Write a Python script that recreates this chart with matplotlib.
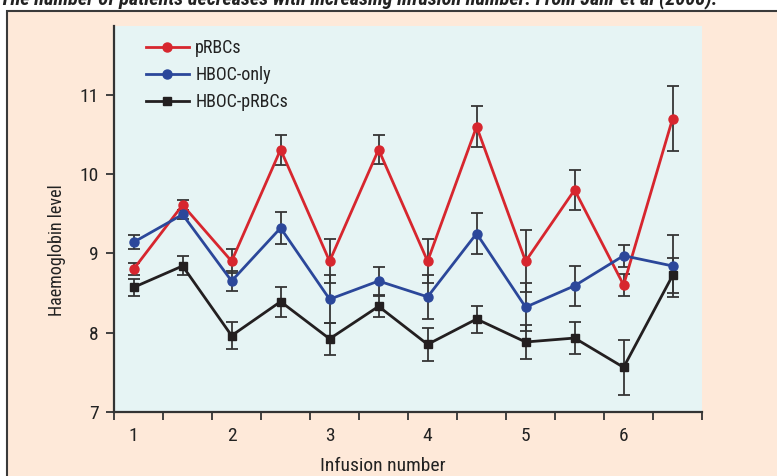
import matplotlib.pyplot as plt
from matplotlib.patches import Rectangle
from matplotlib import font_manager

# data: two measurements per infusion (pre / post)
infusions = ['1', '2', '3', '4', '5', '6']
prbc = [8.80, 9.61, 8.90, 10.31, 8.90, 10.31, 8.90, 10.60, 8.90, 9.80, 8.60, 10.70]
prbc_err = [0.08, 0.06, 0.15, 0.19, 0.28, 0.18, 0.28, 0.26, 0.39, 0.25, 0.14, 0.41]
hboc = [9.14, 9.49, 8.65, 9.32, 8.42, 8.65, 8.45, 9.25, 8.32, 8.59, 8.97, 8.84]
hboc_err = [0.09, 0.06, 0.13, 0.20, 0.30, 0.18, 0.28, 0.26, 0.30, 0.25, 0.14, 0.39]
hboc_prbc = [8.57, 8.84, 7.96, 8.39, 7.92, 8.33, 7.85, 8.17, 7.88, 7.93, 7.56, 8.72]
hboc_prbc_err = [0.11, 0.12, 0.17, 0.19, 0.20, 0.13, 0.21, 0.17, 0.21, 0.20, 0.35, 0.22]

names = set(f.name for f in font_manager.fontManager.ttflist)
fam = 'DejaVu Sans'
for cand in ['Roboto Condensed', 'Liberation Sans Narrow', 'Open Sans Condensed',
             'DejaVu Sans Condensed', 'Liberation Sans']:
    if cand in names:
        fam = cand
        break
plt.rcParams['font.family'] = fam

red = '#d7262e'
blue = '#2b479a'
black = '#231f20'
errc = '#353535'

fig = plt.figure(figsize=(7.77, 4.76), dpi=100)
fig.patch.set_facecolor('white')
W, H = 777, 476
fig.patches.append(Rectangle((7 / W, -0.1), 1.2, 1 - 11 / H + 0.1, transform=fig.transFigure,
                             facecolor='#fee9d9', edgecolor='#3a3a3a', linewidth=1.5, zorder=-5))
fig.text(0.0, 1 - 4 / H, 'The number of patients decreases with increasing infusion number. From Jahr et al (2008).',
         fontsize=14.6, fontweight='bold', style='italic', color='#222222', va='baseline', ha='left')

ax = fig.add_axes([114 / W, 1 - 411.7 / H, 588 / W, (411.7 - 26) / H])
ax.set_facecolor('#e6f4f4')

x = [i + 0.4 for i in range(len(prbc))]
ekw = dict(fmt='none', ecolor=errc, elinewidth=1.3, capsize=4, capthick=1.3, zorder=2)
ax.errorbar(x, prbc, yerr=prbc_err, **ekw)
ax.errorbar(x, hboc, yerr=hboc_err, **ekw)
ax.errorbar(x, hboc_prbc, yerr=hboc_prbc_err, **ekw)
ax.plot(x, prbc, color=red, marker='o', ms=6.5, lw=2, label='pRBCs', zorder=3)
ax.plot(x, hboc, color=blue, marker='o', ms=6.5, lw=2, label='HBOC-only', zorder=3)
ax.plot(x, hboc_prbc, color=black, marker='s', ms=6, lw=2, label='HBOC-pRBCs', zorder=3)

ax.set_xlim(0, 12)
ax.set_ylim(7, 11.87)
ax.set_xticks(range(13))
ax.set_xticklabels([])
ax.set_xticks([x[2 * i] for i in range(len(infusions))], minor=True)
ax.set_xticklabels(infusions, minor=True)
ax.tick_params(axis='x', which='minor', length=0, pad=11, labelsize=14, labelcolor='#222222')
ax.tick_params(axis='x', which='major', length=6, width=1.3, color='#333333', direction='out')
ax.set_yticks([7, 8, 9, 10, 11])
ax.tick_params(axis='y', length=6, width=1.3, color='#333333', pad=5, labelsize=14, labelcolor='#222222')

for s in ['top', 'right']:
    ax.spines[s].set_visible(False)
for s in ['left', 'bottom']:
    ax.spines[s].set_linewidth(1.6)
    ax.spines[s].set_color('#333333')

ax.set_xlabel('Infusion number', fontsize=14, color='#222222')
ax.xaxis.set_label_coords(0.457, -0.117)
ax.set_ylabel('Haemoglobin level', fontsize=13, color='#222222')
ax.yaxis.set_label_coords(-0.082, 0.419)

leg = ax.legend(loc='upper left', bbox_to_anchor=(0.026, 1.008), frameon=False, fontsize=13,
                handlelength=2.4, labelspacing=0.5, handletextpad=0.35)
for t in leg.get_texts():
    t.set_color('#222222')

fig.savefig('out.png', dpi=100, facecolor=fig.get_facecolor())
